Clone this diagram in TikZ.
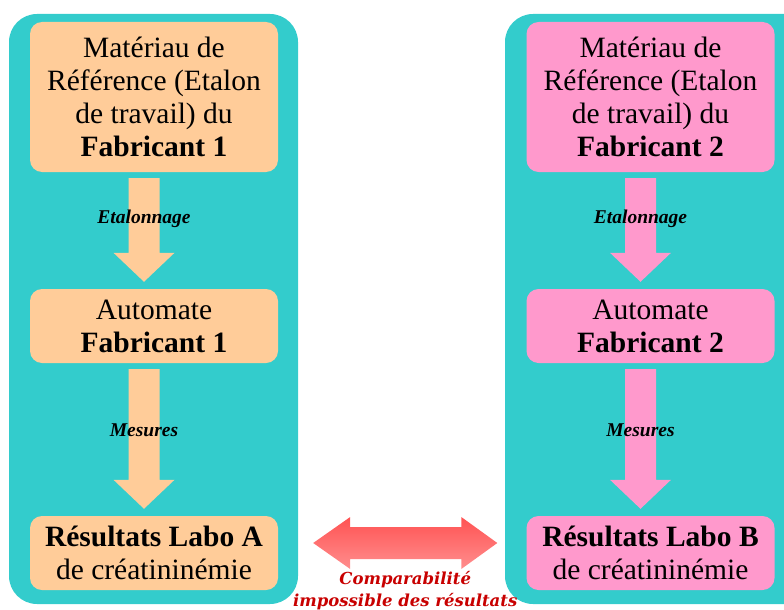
\documentclass[tikz,border=0pt]{standalone}
\usepackage{fontspec}
\setmainfont{Liberation Serif}
\newfontfamily\cfont{DejaVu Serif}
\usetikzlibrary{calc}
\definecolor{panelc}{HTML}{33CCCC}
\definecolor{orangec}{HTML}{FFCC99}
\definecolor{pinkc}{HTML}{FF99CC}
\definecolor{redtop}{HTML}{FF5252}
\definecolor{redbot}{HTML}{FF8E8E}
\definecolor{darkred}{HTML}{C80000}
\tikzset{
  panel/.style={fill=panelc, rounded corners=28pt},
  box/.style={rounded corners=12pt, minimum width=248pt, align=center, inner sep=0pt,
     font=\fontsize{29.5}{33}\selectfont},
  bigbox/.style={box, minimum height=150pt},
  smallbox/.style={box, minimum height=74pt},
  alabel/.style={font=\fontsize{19.5}{21}\selectfont\bfseries\itshape, inner sep=0pt},
}
\newcommand\blockarrow[5]{% from, to, colour, label, label position
  \path ($(#1.south)+(-10,6)$) coordinate (t) ($(#2.north)+(-10,-7)$) coordinate (p);
  \fill[#3] ($(t)+(-15.5,0)$) -- ($(t)+(15.5,0)$) -- ($(p)+(15.5,-29)$) -- ($(p)+(30.5,-29)$)
     -- (p) -- ($(p)+(-30.5,-29)$) -- ($(p)+(-15.5,-29)$) -- cycle;
  \node[alabel] at ($(t)!#5!(p)$) {#4};
}
\begin{document}
\begin{tikzpicture}[x=1pt,y=-1pt]
\path[use as bounding box, clip] (0,0) rectangle (784,610);
% panels
\fill[panel] (9,14) rectangle (298,604);
\fill[panel] (505,14) rectangle (812,604);
% left column
\node[bigbox, fill=orangec] (a1) at (154,97) {Matériau de\\Référence (Etalon\\de travail) du\\\textbf{Fabricant 1}};
\node[smallbox, fill=orangec] (a2) at (154,326) {Automate\\\textbf{Fabricant 1}};
\node[smallbox, fill=orangec] (a3) at (154,553) {\textbf{Résultats Labo A}\\de créatininémie};
% right column
\node[bigbox, fill=pinkc] (b1) at (650.5,97) {Matériau de\\Référence (Etalon\\de travail) du\\\textbf{Fabricant 2}};
\node[smallbox, fill=pinkc] (b2) at (650.5,326) {Automate\\\textbf{Fabricant 2}};
\node[smallbox, fill=pinkc] (b3) at (650.5,553) {\textbf{Résultats Labo B}\\de créatininémie};
% arrows
\blockarrow{a1}{a2}{orangec}{Etalonnage}{0.39}
\blockarrow{a2}{a3}{orangec}{Mesures}{0.44}
\blockarrow{b1}{b2}{pinkc}{Etalonnage}{0.39}
\blockarrow{b2}{b3}{pinkc}{Mesures}{0.44}
% double arrow
\path ($(a3.east)+(35,-10)$) coordinate (l) ($(b3.west)+(-29,-10)$) coordinate (r);
\shade[top color=redtop, bottom color=redbot]
  (l) -- ($(l)+(37,-26)$) -- ($(l)+(37,-16)$) -- ($(r)+(-36,-16)$) -- ($(r)+(-36,-26)$) -- (r)
  -- ($(r)+(-36,26)$) -- ($(r)+(-36,16)$) -- ($(l)+(37,16)$) -- ($(l)+(37,26)$) -- cycle;
\node[font=\cfont\fontsize{16.5}{22}\selectfont\bfseries\itshape, text=darkred, align=center, inner sep=0pt]
  (cmp) at ($(l)!0.5!(r)+(0,48)$) {Comparabilité\\impossible des résultats};
\end{tikzpicture}
\end{document}
